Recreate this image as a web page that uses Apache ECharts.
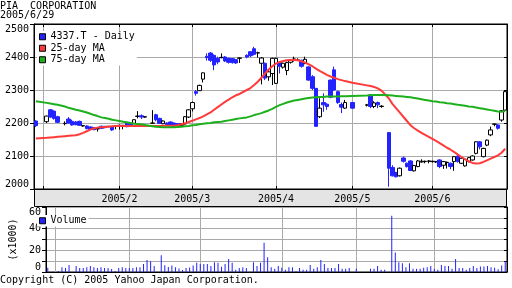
<!DOCTYPE html>
<html><head><meta charset="utf-8">
<script src="https://cdn.jsdelivr.net/npm/echarts@6/dist/echarts.min.js"></script>
<style>html,body{margin:0;padding:0;background:#fff}#c{width:512px;height:288px}</style>
</head><body><div id="c"></div>
<script>
const dates = [
'2004/12/30','2004/12/31',
'2005/1/3','2005/1/4','2005/1/5','2005/1/6','2005/1/7','2005/1/10','2005/1/11','2005/1/12','2005/1/13','2005/1/14','2005/1/17','2005/1/18','2005/1/19','2005/1/20','2005/1/21','2005/1/24','2005/1/25','2005/1/26','2005/1/27','2005/1/28','2005/1/31',
'2005/2/1','2005/2/2','2005/2/3','2005/2/4','2005/2/7','2005/2/8','2005/2/9','2005/2/10','2005/2/11','2005/2/14','2005/2/15','2005/2/16','2005/2/17','2005/2/18','2005/2/21','2005/2/22','2005/2/23','2005/2/24','2005/2/25','2005/2/28',
'2005/3/1','2005/3/2','2005/3/3','2005/3/4','2005/3/7','2005/3/8','2005/3/9','2005/3/10','2005/3/11','2005/3/14','2005/3/15','2005/3/16','2005/3/17','2005/3/18','2005/3/21','2005/3/22','2005/3/23','2005/3/24','2005/3/25','2005/3/28','2005/3/29','2005/3/30','2005/3/31',
'2005/4/1','2005/4/4','2005/4/5','2005/4/6','2005/4/7','2005/4/8','2005/4/11','2005/4/12','2005/4/13','2005/4/14','2005/4/15','2005/4/18','2005/4/19','2005/4/20','2005/4/21','2005/4/22','2005/4/25','2005/4/26','2005/4/27','2005/4/28','2005/4/29',
'2005/5/2','2005/5/3','2005/5/4','2005/5/5','2005/5/6','2005/5/9','2005/5/10','2005/5/11','2005/5/12','2005/5/13','2005/5/16','2005/5/17','2005/5/18','2005/5/19','2005/5/20','2005/5/23','2005/5/24','2005/5/25','2005/5/26','2005/5/27','2005/5/30','2005/5/31',
'2005/6/1','2005/6/2','2005/6/3','2005/6/6','2005/6/7','2005/6/8','2005/6/9','2005/6/10','2005/6/13','2005/6/14','2005/6/15','2005/6/16','2005/6/17','2005/6/20','2005/6/21','2005/6/22','2005/6/23','2005/6/24','2005/6/27','2005/6/28','2005/6/29'
];
const opens = [
2206,null,null,2204,2240,2236,2219,null,2198,2212,
2205,2203,2205,2191,2191,2188,2186,2182,2190,2190,
2189,2189,2191,2192,2192,2199,2198,2199,2220,2222,
2218,null,2199,2225,2214,2198,2200,2203,2200,2198,
2193,2197,2218,2243,2295,2298,2333,2402,2412,2405,
2396,2398,2400,2396,2395,2392,2396,null,2405,2416,
2425,2412,2381,2381,2340,2350,2320,2383,2369,2359,
2384,2393,2390,2390,2381,2370,2340,2305,2219,2262,
2257,2330,2361,2295,2256,2245,null,2262,null,null,
null,2254,2285,2250,2262,2250,null,2171,2065,2050,
2040,2094,2078,2085,2055,2068,2082,2083,2084,2083,
2082,2088,2072,2080,2078,2083,2100,2078,2070,2083,
2088,2108,2143,2098,2133,2164,2196,2194,2209,2239
];
const closes = [
2192,null,null,2221,2218,2214,2202,null,2199,2200,
2194,2195,2193,2192,2183,2181,2180,2183,2184,2186,
2190,2179,2192,2193,2193,2189,2190,2210,2221,2218,
2219,null,2200,2210,2199,2206,2195,2192,2190,2192,
2198,2219,2240,2262,2290,2314,2352,2398,2390,2376,
2385,2399,2388,2384,2383,2382,2397,null,2400,2404,
2408,2413,2397,2336,2355,2396,2396,2372,2381,2383,
2391,2394,2391,2372,2393,2330,2305,2190,2245,2255,
2250,2278,2300,2262,2248,2262,null,2245,null,null,
null,2255,2250,2261,2255,2251,null,2063,2040,2037,
2063,2084,2068,2056,2071,2085,2084,2084,2085,2084,
2083,2068,2083,2081,2068,2098,2083,2093,2090,2095,
2100,2143,2128,2123,2148,2179,2197,2184,2237,2295
];
const lows = [
2188,null,null,2200,2216,2210,2200,null,2193,2198,
2192,2193,2191,2189,2181,2179,2178,2174,2182,2184,
2187,2176,2181,2180,2181,2187,2188,2197,2214,2212,
2216,null,2198,2205,2197,2196,2193,2190,2188,2189,
2191,2195,2215,2235,2283,2297,2323,2389,2385,2360,
2378,2396,2385,2380,2380,2379,2382,null,2396,2400,
2405,2398,2317,2330,2328,2315,2318,2350,2365,2345,
2380,2386,2388,2368,2378,2328,2300,2188,2215,2234,
2240,2275,2298,2258,2230,2243,null,2243,null,null,
null,2250,2245,2245,2245,2246,null,2007,2038,2035,
2038,2080,2065,2054,2053,2066,2080,2078,2078,2080,
2079,2063,2061,2062,2060,2055,2080,2076,2068,2081,
2086,2105,2120,2096,2130,2160,2190,2180,2204,2236
];
const highs = [
2208,null,null,2222,2242,2238,2222,null,2205,2218,
2210,2206,2207,2193,2193,2190,2188,2186,2192,2191,
2191,2190,2194,2195,2194,2201,2199,2211,2236,2226,
2220,null,2239,2228,2216,2208,2202,2205,2201,2200,
2199,2221,2242,2265,2300,2316,2353,2411,2415,2408,
2401,2411,2403,2398,2397,2394,2398,null,2408,2418,
2431,2416,2400,2383,2362,2398,2398,2386,2383,2386,
2393,2401,2396,2392,2401,2372,2345,2306,2275,2290,
2260,2332,2371,2298,2262,2270,null,2264,null,null,
null,2258,2288,2266,2265,2254,null,2172,2072,2052,
2065,2098,2080,2087,2073,2088,2090,2086,2088,2086,
2085,2090,2085,2083,2080,2100,2102,2095,2092,2097,
2102,2145,2145,2125,2150,2189,2198,2196,2239,2300
];
const volumes = [
4,null,null,1,4.5,3.6,6.4,null,5.5,3.6,
3.6,4.5,5.5,4.5,3.6,4.5,3.6,3.6,2.7,1,
3.6,4.5,3.6,3.6,3.6,4.5,4.5,7.3,11,10,
5.5,null,15.5,6.2,4.6,6,4.3,3.3,1.9,3.6,
4.2,6,8.5,7.3,7.3,7.3,5.5,9,8.5,4.8,
7.3,12,8.5,2,3.6,4.5,3.6,null,9,5.5,
8.5,27,13.6,4.5,3,5.5,4,2,4.5,4.5,
0.6,3.6,2,2,6.4,3,4.5,11,7.3,3.6,
3.6,3.6,7.3,3,3,3.6,null,3,null,null,
null,3,3,5.5,2,2,null,52,18,9,
8,4.5,8,3,3,3,4,4.5,5.5,3,
2,6.4,5.5,5.5,3,12,3.6,3.6,2,3.6,
5.5,3.6,5,5,5.5,4.5,4,2.5,6,10
];
const ma25 = [
2153,null,null,2155,2156,2157,2158,null,2160,2161,
2162,2163,2166,2170,2175,2180,2184,2186,2187,2188,
2189,2190,2191,2191,2191,2191,2191,2191,2191,2191,
2191,null,2191,2191,2191,2192,2192,2192,2192,2193,
2196,2199,2203,2207,2211,2215,2220,2226,2232,2240,
2248,2256,2264,2271,2278,2284,2288,null,2300,2306,
2315,2325,2337,2350,2362,2372,2380,2385,2388,2390,
2391,2391,2390,2387,2383,2378,2372,2365,2358,2352,
2346,2341,2337,2333,2330,2327,null,2322,null,null,
null,2314,2312,2309,2305,2298,null,2275,2258,2245,
2232,2219,2206,2193,2184,2177,2170,2164,2158,2152,
2146,2139,2132,2125,2119,2112,2104,2097,2090,2084,
2079,2077,2078,2082,2087,2092,2097,2102,2110,2122
];
const ma75 = [
2266,null,null,2261,2259,2257,2255,null,2250,2246,
2243,2240,2238,2235,2232,2228,2224,2221,2217,2215,
2213,2210,2208,2206,2204,2202,2200,2198,2197,2196,
2194,null,2190,2189,2188,2187,2187,2187,2187,2188,
2189,2190,2191,2193,2194,2196,2198,2199,2200,2202,
2203,2204,2206,2208,2210,2212,2214,null,2217,2220,
2224,2227,2230,2234,2238,2243,2249,2254,2258,2262,
2265,2268,2270,2272,2274,2276,2277,2278,2279,2279,
2280,2280,2280,2280,2281,2281,null,2282,null,null,
null,2283,2284,2285,2285,2285,null,2284,2283,2282,
2281,2280,2279,2278,2276,2274,2272,2270,2268,2266,
2265,2263,2262,2260,2259,2257,2255,2254,2252,2250,
2249,2247,2245,2243,2241,2239,2237,2235,2234,2236
];
const gridDates = ['2005/1/3','2005/2/1','2005/3/1','2005/4/1','2005/5/2','2005/6/1'];
const labelDates = ['2005/2/1','2005/3/1','2005/4/1','2005/5/2','2005/6/1'];
const seriesNames = ['4337.T - Daily','25-day MA','75-day MA','Volume'];

const FONT = 'DejaVu Sans Mono';
const BLUE = '#2323ff', RED = '#ff3a3a', GREEN = '#1cb01c', GRID = '#aaaaaa';
const candle = dates.map((d, i) => opens[i] == null ? '-' : [opens[i], closes[i], lows[i], highs[i]]);
const vol = volumes.map(v => v == null ? '-' : v);
const isGrid = (i, v) => gridDates.indexOf(v) >= 0;
const isLabel = (i, v) => labelDates.indexOf(v) >= 0;
const txt = {fontFamily: FONT, fontSize: 10, color: '#000', fontWeight: 'normal'};

const chart = echarts.init(document.getElementById('c'), null, {renderer: 'canvas'});
chart.setOption({
  animation: false,
  backgroundColor: '#fff',
  textStyle: {fontFamily: FONT},
  title: [
    {text: 'PIA  CORPORATION', left: 0, top: 1, padding: 0, textStyle: txt},
    {text: '2005/6/29', left: 0, top: 10, padding: 0, textStyle: txt},
    {text: 'Copyright (C) 2005 Yahoo Japan Corporation.', left: 0, top: 275, padding: 0, textStyle: txt}
  ],
  graphic: [{type: 'rect', z: -10, shape: {x: 34.5, y: 189.5, width: 472, height: 17}, style: {fill: '#e4e4e4', stroke: '#000', lineWidth: 1}}],
  legend: [
    {data: [{name: seriesNames[0], itemStyle: {color: BLUE}}, {name: seriesNames[1], itemStyle: {color: RED}}, {name: seriesNames[2], itemStyle: {color: GREEN}}],
     orient: 'vertical', left: 37, top: 31, itemWidth: 6, itemHeight: 6, itemGap: 0, icon: 'rect', selectedMode: false,
     backgroundColor: '#fff', padding: [0, 2, 0, 2], itemStyle: {borderColor: '#000', borderWidth: 1},
     textStyle: Object.assign({}, txt, {lineHeight: 11.5})},
    {data: [{name: seriesNames[3], itemStyle: {color: BLUE}}],
     orient: 'vertical', left: 37, top: 215, itemWidth: 6, itemHeight: 6, itemGap: 0, icon: 'rect', selectedMode: false,
     backgroundColor: '#fff', padding: [0, 2, 0, 2], itemStyle: {borderColor: '#000', borderWidth: 1},
     textStyle: Object.assign({}, txt, {lineHeight: 11.5})}
  ],
  grid: [
    {left: 34, right: 5, top: 24, height: 165, show: true, borderColor: '#000', borderWidth: 1, backgroundColor: 'transparent'},
    {left: 34, right: 5, top: 207, height: 65, show: true, borderColor: '#000', borderWidth: 1, backgroundColor: 'transparent'}
  ],
  xAxis: [
    {type: 'category', gridIndex: 0, data: dates, boundaryGap: true,
     axisLine: {show: true, lineStyle: {color: '#000'}},
     axisTick: {show: true, inside: true, length: 3, interval: isGrid, alignWithLabel: true, lineStyle: {color: '#000'}},
     axisLabel: Object.assign({interval: isLabel, margin: 5, formatter: v => v.split('/').slice(0, 2).join('/')}, txt),
     splitLine: {show: true, interval: isGrid, alignWithLabel: true, lineStyle: {color: GRID, width: 1}}},
    {type: 'category', gridIndex: 1, data: dates, boundaryGap: true,
     axisLine: {show: true, lineStyle: {color: '#000'}}, axisTick: {show: false}, axisLabel: {show: false},
     splitLine: {show: true, interval: isGrid, alignWithLabel: true, lineStyle: {color: GRID, width: 1}}},
    {type: 'category', gridIndex: 0, position: 'top', data: dates, boundaryGap: true,
     axisLine: {show: true, lineStyle: {color: '#000'}},
     axisTick: {show: true, inside: true, length: 3, interval: isGrid, alignWithLabel: true, lineStyle: {color: '#000'}},
     axisLabel: {show: false}, splitLine: {show: false}}
  ],
  yAxis: [
    {type: 'value', gridIndex: 0, min: 2000, max: 2500, interval: 100, position: 'left',
     axisLine: {show: true, lineStyle: {color: '#000'}}, axisTick: {show: true, length: 4, lineStyle: {color: '#000'}},
     axisLabel: Object.assign({margin: 5, verticalAlignMinLabel: 'bottom', verticalAlignMaxLabel: 'top', formatter: v => String(v)}, txt),
     splitLine: {show: true, lineStyle: {color: GRID, width: 1}}},
    {type: 'value', gridIndex: 1, min: 0, max: 60, interval: 10, position: 'left',
     name: '(x1000)', nameLocation: 'middle', nameRotate: 90, nameGap: 28, nameTextStyle: txt,
     axisLine: {show: true, lineStyle: {color: '#000'}}, axisTick: {show: true, length: 4, lineStyle: {color: '#000'}},
     axisLabel: Object.assign({margin: 5, verticalAlignMinLabel: 'bottom', verticalAlignMaxLabel: 'top', formatter: v => (v % 20 === 0 ? String(v) : '')}, txt),
     splitLine: {show: true, lineStyle: {color: GRID, width: 1}}},
    {type: 'value', gridIndex: 0, min: 2000, max: 2500, interval: 100, position: 'right',
     axisLine: {show: true, lineStyle: {color: '#000'}}, axisTick: {show: true, inside: true, length: 3, lineStyle: {color: '#000'}},
     axisLabel: {show: false}, splitLine: {show: false}},
    {type: 'value', gridIndex: 1, min: 0, max: 60, interval: 10, position: 'right',
     axisLine: {show: true, lineStyle: {color: '#000'}}, axisTick: {show: true, inside: true, length: 3, lineStyle: {color: '#000'}},
     axisLabel: {show: false}, splitLine: {show: false}}
  ],
  series: [
    {type: 'candlestick', name: seriesNames[0], xAxisIndex: 0, yAxisIndex: 0, data: candle, barWidth: 4,
     itemStyle: {color: '#fff', color0: BLUE, borderColor: '#000', borderColor0: BLUE, borderWidth: 1}},
    {type: 'line', name: seriesNames[1], xAxisIndex: 0, yAxisIndex: 0, data: ma25, symbol: 'none', connectNulls: true,
     lineStyle: {color: RED, width: 2}, itemStyle: {color: RED}},
    {type: 'line', name: seriesNames[2], xAxisIndex: 0, yAxisIndex: 0, data: ma75, symbol: 'none', connectNulls: true,
     lineStyle: {color: GREEN, width: 2}, itemStyle: {color: GREEN}},
    {type: 'bar', name: seriesNames[3], xAxisIndex: 1, yAxisIndex: 1, data: vol, barWidth: 1, itemStyle: {color: BLUE}}
  ]
});
</script>
</body></html>
